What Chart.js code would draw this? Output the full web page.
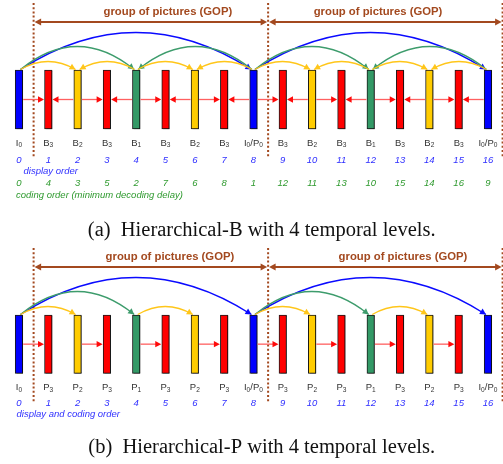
<!DOCTYPE html>
<html><head><meta charset="utf-8">
<script src="https://cdn.jsdelivr.net/npm/chart.js@4.4.1/dist/chart.umd.min.js"></script>
<style>
html,body{margin:0;padding:0;background:#fff;}
#wrap{position:relative;width:503px;height:464px;overflow:hidden;background:#fff}
canvas{position:absolute;left:0;display:block}
#chartA{top:0}
#chartB{top:245px}
</style></head><body>
<div id="wrap">
<canvas id="chartA" width="503" height="245"></canvas>
<canvas id="chartB" width="503" height="219"></canvas>
</div>
<script>
// ---------- data ----------
const frameIndex = ['0','1','2','3','4','5','6','7','8','9','10','11','12','13','14','15','16'];
const temporalLevelB = [0,3,2,3,1,3,2,3,0,3,2,3,1,3,2,3,0];
const temporalLevelP = [0,3,2,3,1,3,2,3,0,3,2,3,1,3,2,3,0];
const frameTypeB = ['I_0','B_3','B_2','B_3','B_1','B_3','B_2','B_3','I_0/P_0','B_3','B_2','B_3','B_1','B_3','B_2','B_3','I_0/P_0'];
const frameTypeP = ['I_0','P_3','P_2','P_3','P_1','P_3','P_2','P_3','I_0/P_0','P_3','P_2','P_3','P_1','P_3','P_2','P_3','I_0/P_0'];
const displayOrder = [0,1,2,3,4,5,6,7,8,9,10,11,12,13,14,15,16];
const codingOrderB = [0,4,3,5,2,7,6,8,1,12,11,13,10,15,14,16,9];
// references [from, to]
const referencesB = [[0,8],[8,16],[0,4],[8,4],[8,12],[16,12],[0,2],[4,2],[4,6],[8,6],[8,10],[12,10],[12,14],[16,14],
  [0,1],[2,1],[2,3],[4,3],[4,5],[6,5],[6,7],[8,7],[8,9],[10,9],[10,11],[12,11],[12,13],[14,13],[14,15],[16,15]];
const referencesP = [[0,8],[8,16],[0,4],[8,12],[0,2],[4,6],[8,10],[12,14],
  [0,1],[2,3],[4,5],[6,7],[8,9],[10,11],[12,13],[14,15]];
const gopBoundaries = [0.5, 8.5, 16.5];
const gopTitle = 'group of pictures (GOP)';

// ---------- styles ----------
const BROWN = '#a3491f';
const barColors = ['#0000ff','#339966','#ffcc00','#ff0000'];
const arcColors = ['#0a0aff','#3d9c6c','#ffc61a'];
const arcRise = [37, 23, 8];
const SANS = '"Liberation Sans", Arial, sans-serif';
const SERIF = '"Liberation Serif", "Times New Roman", serif';

function arrowHead(ctx, tx, ty, ux, uy, len, hw, color){
  const bx = tx - ux*len, by = ty - uy*len;
  const px = -uy, py = ux;
  ctx.beginPath();
  ctx.moveTo(tx, ty);
  ctx.lineTo(bx + px*hw, by + py*hw);
  ctx.lineTo(bx - px*hw, by - py*hw);
  ctx.closePath();
  ctx.fillStyle = color; ctx.fill();
}

function drawSubLabel(ctx, str, cx, cy, size, color){
  const parts = [];
  const re = /([^_]+)|_(\w)/g; let m;
  while ((m = re.exec(str))) {
    if (m[1] !== undefined) parts.push({t:m[1], sub:false});
    else parts.push({t:m[2], sub:true});
  }
  const big = size + 'px ' + SANS, small = (size*0.7).toFixed(1) + 'px ' + SANS;
  let w = 0;
  for (const p of parts){ ctx.font = p.sub ? small : big; p.w = ctx.measureText(p.t).width; w += p.w; }
  let x = cx - w/2;
  ctx.fillStyle = color; ctx.textBaseline = 'middle'; ctx.textAlign = 'left';
  for (const p of parts){ ctx.font = p.sub ? small : big; ctx.fillText(p.t, x, p.sub ? cy + size*0.28 : cy); x += p.w; }
}

const diagramPlugin = {
  id: 'hier',
  beforeDatasetsDraw(chart){
    const c = chart.ctx; c.save();
    c.shadowColor = 'rgba(0,0,0,0.42)'; c.shadowOffsetX = 1.6; c.shadowOffsetY = 0.4; c.shadowBlur = 0;
  },
  afterDatasetsDraw(chart){ chart.ctx.restore(); },
  afterDraw(chart, args, o){
    const ctx = chart.ctx, xs = chart.scales.x, ys = chart.scales.y;
    const bars = chart.getDatasetMeta(0).data;
    const yTop = ys.getPixelForValue(1), yBot = ys.getPixelForValue(0), yMid = ys.getPixelForValue(0.5);
    const levels = o.levels;
    ctx.save();
    // GOP boundaries (dotted)
    ctx.strokeStyle = BROWN; ctx.lineWidth = 2; ctx.setLineDash([2, 2.2]);
    for (const b of gopBoundaries){
      const x = xs.getPixelForValue(b);
      ctx.beginPath(); ctx.moveTo(x, yTop - 67); ctx.lineTo(x, yBot + o.dotBottom); ctx.stroke();
    }
    ctx.setLineDash([]);
    // GOP arrows + titles
    for (let g = 0; g < gopBoundaries.length - 1; g++){
      const xa = xs.getPixelForValue(gopBoundaries[g]) + 1, xb = xs.getPixelForValue(gopBoundaries[g+1]) - 1;
      const y = yTop - 48;
      ctx.strokeStyle = BROWN; ctx.lineWidth = 1.8;
      ctx.beginPath(); ctx.moveTo(xa + 4, y); ctx.lineTo(xb - 4, y); ctx.stroke();
      arrowHead(ctx, xa, y, -1, 0, 6.5, 3.6, BROWN);
      arrowHead(ctx, xb, y, 1, 0, 6.5, 3.6, BROWN);
      ctx.font = 'bold 11.3px ' + SANS; ctx.fillStyle = BROWN; ctx.textAlign = 'center'; ctx.textBaseline = 'middle';
      ctx.fillText(gopTitle, xs.getPixelForValue(o.gopTextAt[g]), yTop - 58.5);
    }
    // reference arrows
    for (const [f, t] of o.refs){
      const lev = levels[t];
      const dir = Math.sign(t - f);
      const bf = bars[f], bt = bars[t];
      if (lev === 3){
        const x0 = bf.x + dir*(bf.width/2 + 0.5), x1 = bt.x - dir*(bt.width/2 + 0.5);
        ctx.strokeStyle = '#ff6060'; ctx.lineWidth = 1.3;
        ctx.beginPath(); ctx.moveTo(x0, yMid); ctx.lineTo(x1 - dir*3, yMid); ctx.stroke();
        arrowHead(ctx, x1, yMid, dir, 0, 6, 3.2, '#ff0a0a');
      } else {
        const x0 = bf.x + dir*1.5, x1 = bt.x - dir*2;
        const y0 = yTop - 0.5;
        const cx = (x0 + x1)/2, cy = y0 - 2*arcRise[lev];
        ctx.strokeStyle = arcColors[lev]; ctx.lineWidth = 1.3;
        ctx.beginPath(); ctx.moveTo(x0, y0); ctx.quadraticCurveTo(cx, cy, x1, y0); ctx.stroke();
        let ux = x1 - cx, uy = y0 - cy; const n = Math.hypot(ux, uy); ux /= n; uy /= n;
        arrowHead(ctx, x1, y0, ux, uy, 6, 3.2, arcColors[lev]);
      }
    }
    // frame type labels
    for (let i = 0; i < bars.length; i++){
      drawSubLabel(ctx, o.types[i], bars[i].x, yBot + 14, 9.5, '#333333');
    }
    // order rows
    ctx.textAlign = 'center'; ctx.textBaseline = 'middle';
    for (const row of o.rows){
      ctx.font = 'italic 9.5px ' + SANS; ctx.fillStyle = row.color;
      ctx.textAlign = 'center';
      for (let i = 0; i < bars.length; i++) ctx.fillText(String(row.values[i]), bars[i].x, yBot + row.dy);
      ctx.font = 'italic 9.5px ' + SANS; ctx.textAlign = 'left';
      ctx.fillText(row.label, row.labelX, yBot + row.dy + row.labelDy);
    }
    // caption
    ctx.font = '20.5px ' + SERIF; ctx.fillStyle = '#111'; ctx.textAlign = 'center'; ctx.textBaseline = 'alphabetic';
    ctx.fillText(o.caption, 261.7, yBot + o.captionDy);
    ctx.restore();
  }
};

function makeChart(id, levels, height, padTop, padBottom, hierOpts){
  return new Chart(document.getElementById(id), {
    type: 'bar',
    data: {
      labels: frameIndex,
      datasets: [{
        data: levels.map(() => [0, 1]),
        backgroundColor: levels.map(l => barColors[l]),
        borderColor: '#1a1a1a', borderWidth: 1, borderSkipped: false,
        barThickness: 7.5, clip: false
      }]
    },
    options: {
      responsive: false, animation: false, devicePixelRatio: 1,
      layout: { padding: { left: 4.3, right: 0.4, top: padTop, bottom: padBottom } },
      scales: {
        x: { display: false, offset: true, grid: { display: false } },
        y: { display: false, min: 0, max: 1 }
      },
      plugins: { legend: { display: false }, tooltip: { enabled: false }, hier: hierOpts }
    },
    plugins: [diagramPlugin]
  });
}

makeChart('chartA', temporalLevelB, 245, 70, 245 - 129, {
  levels: temporalLevelB, types: frameTypeB, refs: referencesB,
  gopTextAt: [5.08, 12.25], dotBottom: 29,
  rows: [
    { values: displayOrder, color: '#2f2fff', dy: 31, label: 'display order', labelX: 23.5, labelDy: 11 },
    { values: codingOrderB, color: '#2f9a2f', dy: 54.5, label: 'coding order (minimum decoding delay)', labelX: 16, labelDy: 11.5 }
  ],
  caption: '(a)  Hierarchical-B with 4 temporal levels.', captionDy: 107
});

makeChart('chartB', temporalLevelP, 219, 70, 219 - 128.3, {
  levels: temporalLevelP, types: frameTypeP, refs: referencesP,
  gopTextAt: [5.15, 13.1], dotBottom: 30,
  rows: [
    { values: displayOrder, color: '#2f2fff', dy: 30, label: 'display and coding order', labelX: 16.5, labelDy: 11 }
  ],
  caption: '(b)  Hierarchical-P with 4 temporal levels.', captionDy: 80
});
</script>
</body></html>
